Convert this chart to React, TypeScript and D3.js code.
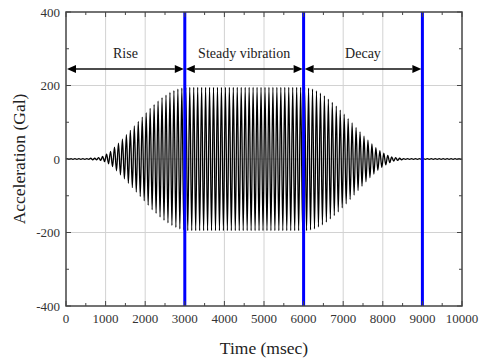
import { useMemo } from "react";
import * as d3 from "d3";

// peak amplitude (Gal) of each 100 msec cycle
const cycleAmplitudes = [
  1, 1, 1, 1, 1, 1, 2, 2, 4, 7,
  13, 21, 32, 43, 54, 66, 78, 90, 102, 114,
  126, 138, 148, 158, 167, 174, 181, 186, 190, 193,
  195, 195, 195, 195, 195, 195, 195, 195, 195, 195,
  195, 195, 195, 195, 195, 195, 195, 195, 195, 195,
  195, 195, 195, 195, 195, 195, 195, 195, 195, 195,
  195, 193, 190, 185, 179, 172, 163, 154, 144, 133,
  122, 110, 98, 86, 74, 62, 51, 41, 31, 23,
  16, 10, 6, 4, 2, 1, 1, 1, 1, 1,
  1, 1, 1, 1, 1, 1, 1, 1, 1, 1,
];
const cyclePeriod = 100; // msec

const phaseBounds = [0, 3000, 6000, 9000];
const phaseLines = [3000, 6000, 9000];
const phaseLabels = ["Rise", "Steady vibration", "Decay"];

const xTicks = [0, 1000, 2000, 3000, 4000, 5000, 6000, 7000, 8000, 9000, 10000];
const xMinor = [500, 1500, 2500, 3500, 4500, 5500, 6500, 7500, 8500, 9500];
const yTicks = [-400, -200, 0, 200, 400];
const yMinor = [-300, -100, 100, 300];

const serif = "'Liberation Serif', 'DejaVu Serif', serif";

export default function App() {
  const width = 481;
  const height = 361;
  const m = { left: 66, right: 19, top: 12, bottom: 55 };
  const iw = width - m.left - m.right;
  const ih = height - m.top - m.bottom;

  const x = d3.scaleLinear().domain([0, 10000]).range([0, iw]);
  const y = d3.scaleLinear().domain([-400, 400]).range([ih, 0]);

  const path = useMemo(() => {
    const pts: [number, number][] = [[0, 0]];
    cycleAmplitudes.forEach((a, i) => {
      pts.push([i * cyclePeriod + cyclePeriod / 4, a]);
      pts.push([i * cyclePeriod + (3 * cyclePeriod) / 4, -a]);
    });
    pts.push([10000, 0]);
    return d3
      .line<[number, number]>()
      .x((d) => x(d[0]))
      .y((d) => y(d[1]))
      .curve(d3.curveMonotoneX)(pts);
  }, [iw, ih]);

  const frame = "#444";
  const arrowY = y(245);
  const ah = 9;

  return (
    <svg
      width={width}
      height={height}
      style={{ position: "absolute", left: 0, top: 0, background: "#fff", fontFamily: serif }}
    >
      <g transform={`translate(${m.left},${m.top})`}>
        {xTicks.slice(1, -1).map((t) => (
          <line key={"gx" + t} x1={x(t)} x2={x(t)} y1={0} y2={ih} stroke="#d2d2d2" strokeWidth={1} />
        ))}
        {yTicks.slice(1, -1).map((t) => (
          <line key={"gy" + t} x1={0} x2={iw} y1={y(t)} y2={y(t)} stroke="#d2d2d2" strokeWidth={1} />
        ))}

        <path d={path ?? ""} fill="none" stroke="#000" strokeWidth={1.3} />

        {phaseLines.map((t) => (
          <line key={"b" + t} x1={x(t)} x2={x(t)} y1={0} y2={ih} stroke="#0000ff" strokeWidth={3} />
        ))}

        {phaseLabels.map((label, i) => {
          const x0 = x(phaseBounds[i]) + 1;
          const x1 = x(phaseBounds[i + 1]) - 1;
          return (
            <g key={label}>
              <line x1={x0 + ah} x2={x1 - ah} y1={arrowY} y2={arrowY} stroke="#111" strokeWidth={1.6} />
              <path d={`M${x0},${arrowY}L${x0 + ah},${arrowY - 4}L${x0 + ah},${arrowY + 4}Z`} fill="#000" />
              <path d={`M${x1},${arrowY}L${x1 - ah},${arrowY - 4}L${x1 - ah},${arrowY + 4}Z`} fill="#000" />
              <text
                x={(x0 + x1) / 2}
                y={y(274)}
                textAnchor="middle"
                fontSize={14}
                fill="#222"
                style={{ fontFamily: serif }}
              >
                {label}
              </text>
            </g>
          );
        })}

        {/* ticks, inward on all four sides */}
        {xTicks.map((t) => (
          <g key={"tx" + t}>
            <line x1={x(t)} x2={x(t)} y1={ih} y2={ih - 5} stroke={frame} strokeWidth={1} />
            <line x1={x(t)} x2={x(t)} y1={0} y2={5} stroke={frame} strokeWidth={1} />
            <text x={x(t)} y={ih + 17} textAnchor="middle" fontSize={13} fill="#333" style={{ fontFamily: serif }}>
              {t}
            </text>
          </g>
        ))}
        {xMinor.map((t) => (
          <g key={"mx" + t}>
            <line x1={x(t)} x2={x(t)} y1={ih} y2={ih - 3} stroke={frame} strokeWidth={1} />
            <line x1={x(t)} x2={x(t)} y1={0} y2={3} stroke={frame} strokeWidth={1} />
          </g>
        ))}
        {yTicks.map((t) => (
          <g key={"ty" + t}>
            <line x1={0} x2={5} y1={y(t)} y2={y(t)} stroke={frame} strokeWidth={1} />
            <line x1={iw} x2={iw - 5} y1={y(t)} y2={y(t)} stroke={frame} strokeWidth={1} />
            <text x={-6} y={y(t)} dy="0.35em" textAnchor="end" fontSize={13} fill="#333" style={{ fontFamily: serif }}>
              {t}
            </text>
          </g>
        ))}
        {yMinor.map((t) => (
          <g key={"my" + t}>
            <line x1={0} x2={3} y1={y(t)} y2={y(t)} stroke={frame} strokeWidth={1} />
            <line x1={iw} x2={iw - 3} y1={y(t)} y2={y(t)} stroke={frame} strokeWidth={1} />
          </g>
        ))}

        <rect x={0} y={0} width={iw} height={ih} fill="none" stroke={frame} strokeWidth={1.5} />

        <text x={iw / 2} y={ih + 48} textAnchor="middle" fontSize={17.5} fill="#222" style={{ fontFamily: serif }}>
          Time (msec)
        </text>
        <text
          transform={`translate(${-41},${ih / 2}) rotate(-90)`}
          textAnchor="middle"
          fontSize={17.5}
          fill="#222"
          style={{ fontFamily: serif }}
        >
          Acceleration (Gal)
        </text>
      </g>
    </svg>
  );
}
